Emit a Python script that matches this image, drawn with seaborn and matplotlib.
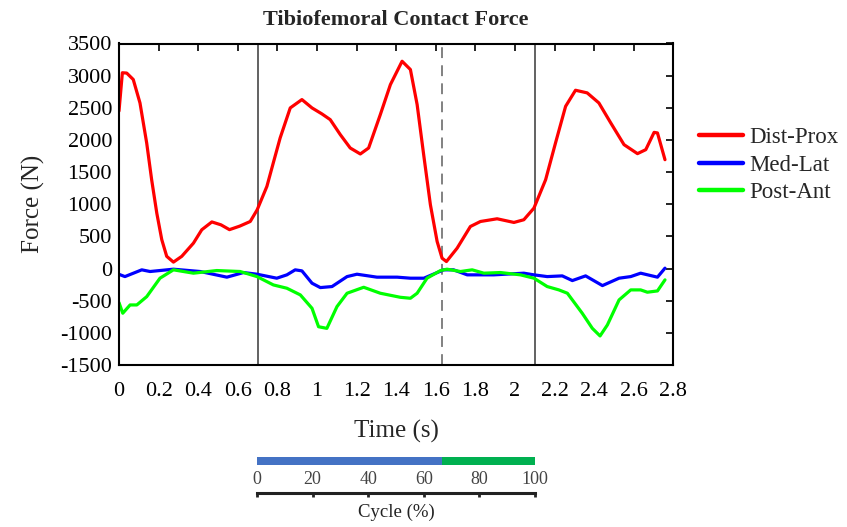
import numpy as np
import pandas as pd
import matplotlib
matplotlib.use("Agg")
import matplotlib.pyplot as plt
import seaborn as sns

# ---- data ----
t_dp = [0.0, 0.017, 0.039, 0.072, 0.106, 0.14, 0.165, 0.191, 0.216, 0.241, 0.275, 0.317, 0.376,
        0.418, 0.469, 0.515, 0.558, 0.61, 0.663, 0.698, 0.747, 0.78, 0.814, 0.865, 0.924, 0.975,
        1.025, 1.067, 1.118, 1.168, 1.219, 1.261, 1.32, 1.371, 1.43, 1.472, 1.506, 1.539, 1.573,
        1.607, 1.632, 1.654, 1.708, 1.775, 1.826, 1.910, 1.995, 2.045, 2.096, 2.155, 2.205, 2.256,
        2.306, 2.365, 2.424, 2.484, 2.551, 2.619, 2.661, 2.703, 2.72, 2.758]
f_dp = [2450, 3045, 3040, 2940, 2575, 1950, 1380, 860, 450, 190, 100, 190, 395,
        603, 725, 680, 605, 660, 732, 914, 1277, 1650, 2031, 2498, 2628, 2498,
        2405, 2316, 2082, 1875, 1782, 1875, 2394, 2861, 3224, 3095, 2550, 1771, 992,
        421, 161, 109, 317, 654, 732, 774, 717, 759, 940, 1381, 1953, 2523,
        2773, 2732, 2576, 2265, 1927, 1787, 1849, 2118, 2109, 1693]

t_ml = [0.0, 0.03, 0.115, 0.157, 0.275, 0.41, 0.545, 0.629, 0.697, 0.797, 0.848, 0.89, 0.924,
        0.975, 1.017, 1.076, 1.152, 1.202, 1.303, 1.405, 1.472, 1.54, 1.64, 1.69, 1.759, 1.893,
        2.045, 2.096, 2.163, 2.239, 2.29, 2.357, 2.442, 2.526, 2.585, 2.635, 2.72, 2.758]
f_ml = [-90, -125, -20, -46, -10, -46, -134, -62, -88, -150, -98, -20, -36,
        -228, -296, -280, -125, -88, -134, -134, -150, -150, -20, -20, -98, -98,
        -72, -98, -125, -114, -187, -114, -265, -150, -125, -72, -134, 6]

t_pa = [0.0, 0.019, 0.056, 0.09, 0.14, 0.207, 0.275, 0.376, 0.494, 0.612, 0.697, 0.78, 0.848,
        0.916, 0.975, 1.008, 1.05, 1.101, 1.152, 1.236, 1.32, 1.421, 1.472, 1.506, 1.556, 1.624,
        1.657, 1.725, 1.784, 1.843, 1.927, 2.028, 2.096, 2.163, 2.222, 2.265, 2.34, 2.391, 2.43,
        2.467, 2.526, 2.585, 2.635, 2.669, 2.72, 2.758]
f_pa = [-530, -695, -566, -566, -437, -150, -20, -72, -31, -46, -125, -255, -306,
        -410, -618, -905, -930, -592, -384, -291, -384, -447, -462, -384, -150, -31,
        -10, -46, -20, -72, -62, -98, -150, -280, -332, -384, -695, -930, -1048,
        -877, -488, -332, -332, -368, -348, -176]

series_names = ["Dist-Prox", "Med-Lat", "Post-Ant"]
series_colors = ["#ff0000", "#0000ff", "#00ff00"]

event_times = [0.7, 1.633, 2.1]
event_styles = ["-", "--", "-"]

x_ticks = [0, 0.2, 0.4, 0.6, 0.8, 1, 1.2, 1.4, 1.6, 1.8, 2, 2.2, 2.4, 2.6, 2.8]
x_ticklabels = ["0", "0.2", "0.4", "0.6", "0.8", "1", "1.2", "1.4", "1.6", "1.8",
                "2", "2.2", "2.4", "2.6", "2.8"]
y_ticks = [-1500, -1000, -500, 0, 500, 1000, 1500, 2000, 2500, 3000, 3500]

phase_starts = [0, 66.5]
phase_widths = [66.5, 33.5]
phase_colors = ["#4472c4", "#00b050"]
cycle_ticks = [0, 20, 40, 60, 80, 100]

# ---- plotting ----
sns.set_theme(style="white")
plt.rcParams["font.family"] = ["Liberation Serif", "DejaVu Serif"]

W, H = 847, 527
fig = plt.figure(figsize=(W / 100, H / 100), dpi=100)

def fx(px):
    return px / W

def fy(py):
    return 1 - py / H

L, R, T, B = 119, 673.3, 43.5, 365
ax = fig.add_axes([fx(L), fy(B), fx(R) - fx(L), fy(T) - fy(B)])

df = pd.concat([
    pd.DataFrame({"t": t_dp, "F": f_dp, "s": series_names[0]}),
    pd.DataFrame({"t": t_ml, "F": f_ml, "s": series_names[1]}),
    pd.DataFrame({"t": t_pa, "F": f_pa, "s": series_names[2]}),
])
sns.lineplot(data=df, x="t", y="F", hue="s", palette=dict(zip(series_names, series_colors)),
             estimator=None, sort=False, linewidth=2.3, ax=ax, legend=True)
for ln in ax.get_lines():
    ln.set_solid_joinstyle("round")
    ln.set_solid_capstyle("round")

for et, ls in zip(event_times, event_styles):
    if ls == "--":
        ax.axvline(et, color="#777777", lw=1.3, ls=(0, (6, 4)), zorder=0.5)
    else:
        ax.axvline(et, color="#555555", lw=1.3, ls="-", zorder=0.5)

ax.set_xlim(0, 2.8)
ax.set_ylim(-1500, 3500)
ax.set_xticks(x_ticks)
ax.set_xticklabels(x_ticklabels)
ax.set_yticks(y_ticks)
ax.set_yticklabels([str(v) for v in y_ticks])
ax.tick_params(axis="both", direction="in", length=5, width=1.2, top=True, right=True,
               labelsize=16, colors="black")
ax.tick_params(axis="x", pad=12)
ax.tick_params(axis="y", pad=5)
for sp in ax.spines.values():
    sp.set_visible(True)
    sp.set_color("black")
    sp.set_linewidth(1.5)
ax.set_xlabel("Time (s)", fontsize=18, labelpad=14)
ax.set_ylabel("Force (N)", fontsize=18, labelpad=11)
ax.set_title("Tibiofemoral Contact Force", fontsize=16, fontweight="bold", pad=13)

handles, labels = ax.get_legend_handles_labels()
leg = ax.legend(handles, labels, loc="upper left", bbox_to_anchor=(fx(690), fy(118)),
                bbox_transform=fig.transFigure, frameon=False, fontsize=16.5,
                handlelength=1.9, handletextpad=0.3, labelspacing=0.28, borderaxespad=0)
for ln in leg.get_lines():
    ln.set_linewidth(3.2)

# cycle bar
bx0, bx1 = 257, 535
axb = fig.add_axes([fx(bx0), fy(465), fx(bx1) - fx(bx0), fy(457) - fy(465)])
axb.barh([0] * len(phase_starts), phase_widths, left=phase_starts, color=phase_colors,
         height=1.0, edgecolor="none")
axb.set_xlim(0, 100)
axb.set_ylim(-0.5, 0.5)
axb.axis("off")

# cycle scale
axs = fig.add_axes([fx(bx0), fy(493), fx(bx1) - fx(bx0), 0.0005])
axs.set_xlim(0, 100)
axs.set_yticks([])
axs.set_xticks(cycle_ticks)
axs.set_xticklabels([str(c) for c in cycle_ticks])
for k, sp in axs.spines.items():
    sp.set_visible(k == "bottom")
axs.spines["bottom"].set_linewidth(2.2)
axs.spines["bottom"].set_color("#222222")
axs.tick_params(axis="x", bottom=True, top=False, labelbottom=False, labeltop=True,
                direction="out", length=3, width=2, color="#222222", labelsize=13,
                labelcolor="#444444", pad=0.5)
axs.set_xlabel("Cycle (%)", fontsize=13.5, labelpad=5, color="#222222")
axs.xaxis.set_label_position("bottom")
axs.patch.set_visible(False)

fig.savefig("out.png", dpi=100)
